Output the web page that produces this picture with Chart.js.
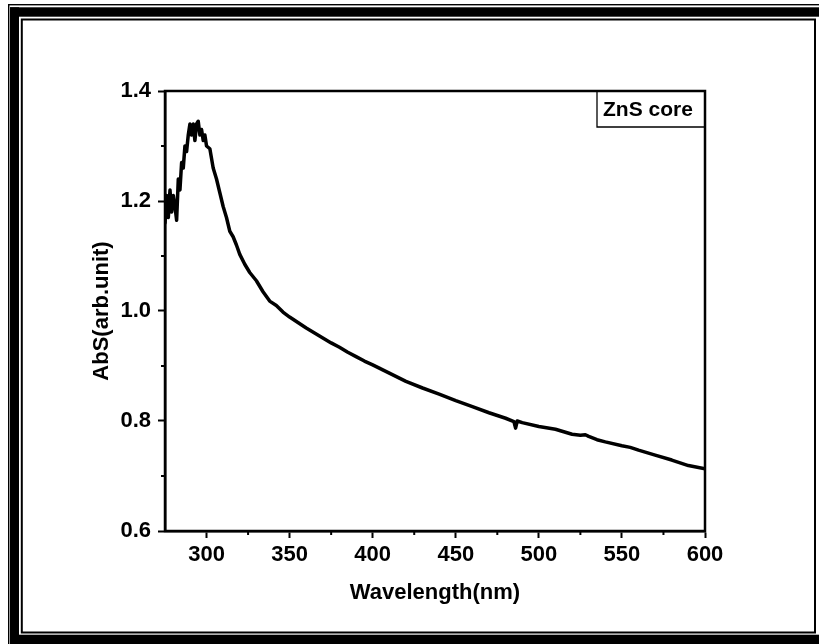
<!DOCTYPE html>
<html>
<head>
<meta charset="utf-8">
<title>ZnS core absorbance</title>
<script src="https://cdn.jsdelivr.net/npm/chart.js@4.4.1/dist/chart.umd.min.js"></script>
<style>
    body { margin: 0; background: #fff; }
    canvas { display: block; }
</style>
</head>
<body>
<canvas id="absChart" width="819" height="644"></canvas>
<script>
// values
const seriesLabel = 'ZnS core';
const wavelength = [275, 276, 277, 278, 279, 280, 281, 282, 283, 284, 285, 286, 287, 288, 289,
    290, 291, 292, 293, 294, 295, 296, 297, 298, 299, 300, 302, 304, 306, 308, 310, 312, 314,
    316, 318, 320, 323, 326, 330, 334, 338, 342, 346, 350, 355, 360, 365, 370, 375, 380, 385,
    390, 395, 400, 410, 420, 430, 440, 450, 460, 470, 480, 485, 486, 487, 490, 500, 510, 520,
    525, 528, 530, 535, 540, 550, 555, 560, 570, 580, 590, 600];
const absorbance = [1.16, 1.21, 1.17, 1.22, 1.18, 1.21, 1.19, 1.165, 1.24, 1.22, 1.27, 1.26,
    1.30, 1.29, 1.32, 1.34, 1.32, 1.34, 1.31, 1.34, 1.345, 1.32, 1.33, 1.31, 1.32, 1.30, 1.295,
    1.26, 1.24, 1.215, 1.19, 1.17, 1.145, 1.135, 1.12, 1.103, 1.085, 1.07, 1.055, 1.035, 1.018,
    1.01, 0.998, 0.989, 0.979, 0.969, 0.960, 0.951, 0.942, 0.934, 0.925, 0.917, 0.909, 0.902,
    0.887, 0.872, 0.860, 0.849, 0.837, 0.826, 0.815, 0.805, 0.799, 0.787, 0.800, 0.797, 0.790,
    0.785, 0.776, 0.774, 0.775, 0.772, 0.766, 0.762, 0.755, 0.752, 0.747, 0.738, 0.729, 0.719,
    0.713];
const xTicks = [300, 350, 400, 450, 500, 550, 600];
const xMinorTicks = [325, 375, 425, 475, 525, 575];
const yTicks = [0.6, 0.8, 1.0, 1.2, 1.4];
const yMinorTicks = [0.7, 0.9, 1.1, 1.3];

const fontFamily = '"Liberation Sans", Arial, sans-serif';

// white page with the double frame around it
const framePlugin = {
    id: 'frame',
    beforeDraw(chart) {
        const ctx = chart.ctx;
        ctx.save();
        ctx.fillStyle = '#fff';
        ctx.fillRect(0, 0, chart.width, chart.height);
        ctx.fillStyle = '#000';
        // outer hairline
        ctx.fillRect(8, 4, 811, 1.4);
        ctx.fillRect(8, 4, 1.4, 640);
        // thick band
        ctx.fillRect(10, 7.3, 809, 9.4);
        ctx.fillRect(10, 7.3, 9, 637);
        ctx.fillRect(10, 634.7, 809, 9.3);
        // inner line
        ctx.strokeStyle = '#000';
        ctx.lineWidth = 2;
        ctx.strokeRect(21.8, 19.5, 815 - 21.8, 632.5 - 19.5);
        ctx.restore();
    }
};

// box around the plot, minor ticks and the label box
const boxPlugin = {
    id: 'plotBox',
    afterDraw(chart) {
        const ctx = chart.ctx;
        const area = chart.chartArea;
        const xs = chart.scales.x;
        const ys = chart.scales.y;
        ctx.save();
        ctx.strokeStyle = '#000';
        ctx.lineWidth = 2.5;
        ctx.strokeRect(area.left, area.top, area.right - area.left, area.bottom - area.top);

        ctx.lineWidth = 2;
        ctx.beginPath();
        xMinorTicks.forEach(v => {
            const px = xs.getPixelForValue(v);
            ctx.moveTo(px, area.bottom);
            ctx.lineTo(px, area.bottom + 4);
        });
        yMinorTicks.forEach(v => {
            const py = ys.getPixelForValue(v);
            ctx.moveTo(area.left, py);
            ctx.lineTo(area.left - 4, py);
        });
        ctx.stroke();

        // label box in the top right corner
        const boxLeft = 597;
        const boxBottom = 127;
        ctx.lineWidth = 1.3;
        ctx.beginPath();
        ctx.moveTo(boxLeft, area.top);
        ctx.lineTo(boxLeft, boxBottom);
        ctx.lineTo(area.right, boxBottom);
        ctx.stroke();
        ctx.fillStyle = '#000';
        ctx.font = 'bold 21px ' + fontFamily;
        ctx.textBaseline = 'middle';
        ctx.textAlign = 'left';
        ctx.fillText(seriesLabel, 603, 110);
        ctx.restore();
    }
};

const ctx = document.getElementById('absChart').getContext('2d');
const absChart = new Chart(ctx, {
    type: 'line',
    data: {
        datasets: [{
            label: seriesLabel,
            data: wavelength.map((w, i) => ({ x: w, y: absorbance[i] })),
            borderColor: '#000',
            borderWidth: 3.5,
            borderJoinStyle: 'round',
            borderCapStyle: 'round',
            pointRadius: 0,
            tension: 0,
            fill: false
        }]
    },
    options: {
        responsive: false,
        animation: false,
        layout: { padding: { top: 91, right: 114, left: 0, bottom: 0 } },
        plugins: {
            legend: { display: false },
            tooltip: { enabled: false }
        },
        scales: {
            x: {
                type: 'linear',
                min: 275,
                max: 600,
                afterBuildTicks: scale => { scale.ticks = xTicks.map(v => ({ value: v })); },
                afterFit: scale => { scale.height = 113; },
                grid: { drawOnChartArea: false, tickLength: 7, tickWidth: 2, tickColor: '#000' },
                border: { display: true, color: '#000', width: 2.5 },
                ticks: {
                    color: '#000',
                    padding: 4,
                    maxRotation: 0,
                    font: { family: fontFamily, size: 22, weight: 'bold' },
                    callback: v => String(v)
                },
                title: {
                    display: true,
                    text: 'Wavelength(nm)',
                    color: '#000',
                    padding: { top: 0, bottom: 38 },
                    font: { family: fontFamily, size: 22, weight: 'bold' }
                }
            },
            y: {
                min: 0.6,
                max: 1.4,
                afterBuildTicks: scale => { scale.ticks = yTicks.map(v => ({ value: v })); },
                afterFit: scale => { scale.width = 165; },
                grid: { drawOnChartArea: false, tickLength: 7, tickWidth: 2, tickColor: '#000' },
                border: { display: true, color: '#000', width: 2.5 },
                ticks: {
                    color: '#000',
                    padding: 7,
                    font: { family: fontFamily, size: 22, weight: 'bold' },
                    callback: v => Number(v).toFixed(1)
                },
                title: {
                    display: true,
                    text: 'AbS(arb.unit)',
                    color: '#000',
                    padding: { top: 89, bottom: 0 },
                    font: { family: fontFamily, size: 22, weight: 'bold' }
                }
            }
        }
    },
    plugins: [framePlugin, boxPlugin]
});
</script>
</body>
</html>
